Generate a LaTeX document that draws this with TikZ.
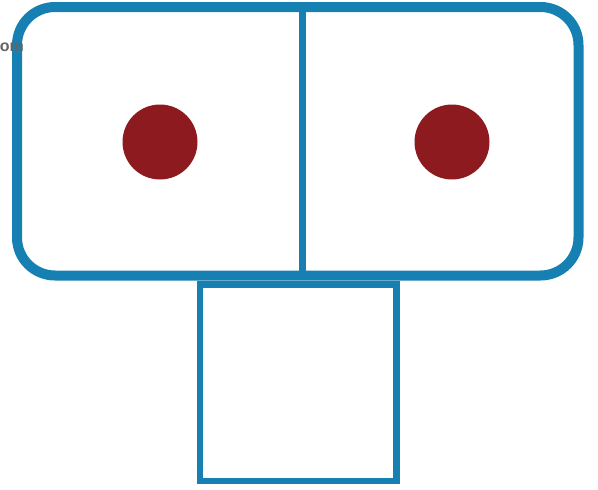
\documentclass[tikz,border=0pt]{standalone}
\usepackage{fontspec}
\setmainfont{Liberation Sans}
\definecolor{frameblue}{RGB}{22,128,178}
\definecolor{dotred}{RGB}{140,26,30}
\definecolor{textgray}{RGB}{100,100,100}
\tikzset{
  outerframe/.style={draw=frameblue, line width=10pt, rounded corners=38pt},
  divider/.style={draw=frameblue, line width=7pt},
  lowerbox/.style={draw=frameblue, line width=6.5pt},
  reddot/.style={circle, fill=dotred, draw=none, minimum size=75pt, inner sep=0pt},
}
\begin{document}
\begin{tikzpicture}[x=1pt,y=-1pt]
\useasboundingbox (0,0) rectangle (598,490);
\path[outerframe] (17,7) rectangle (578.5,275.5);
\coordinate (dtop) at (302,7);
\coordinate (dbot) at (302,275.5);
\draw[divider] (dtop) -- (dbot);
\path[lowerbox] (200,284.5) rectangle (396.5,481);
\node[reddot] (leftdot) at (160,142) {};
\node[reddot] (rightdot) at (452,142) {};
\begin{scope}
\clip (0,0) rectangle (598,490);
\node[text=textgray, font=\bfseries\fontsize{16}{16}\selectfont, anchor=east, inner sep=0pt] (omtext) at (24,47) {om};
\end{scope}
\end{tikzpicture}
\end{document}
